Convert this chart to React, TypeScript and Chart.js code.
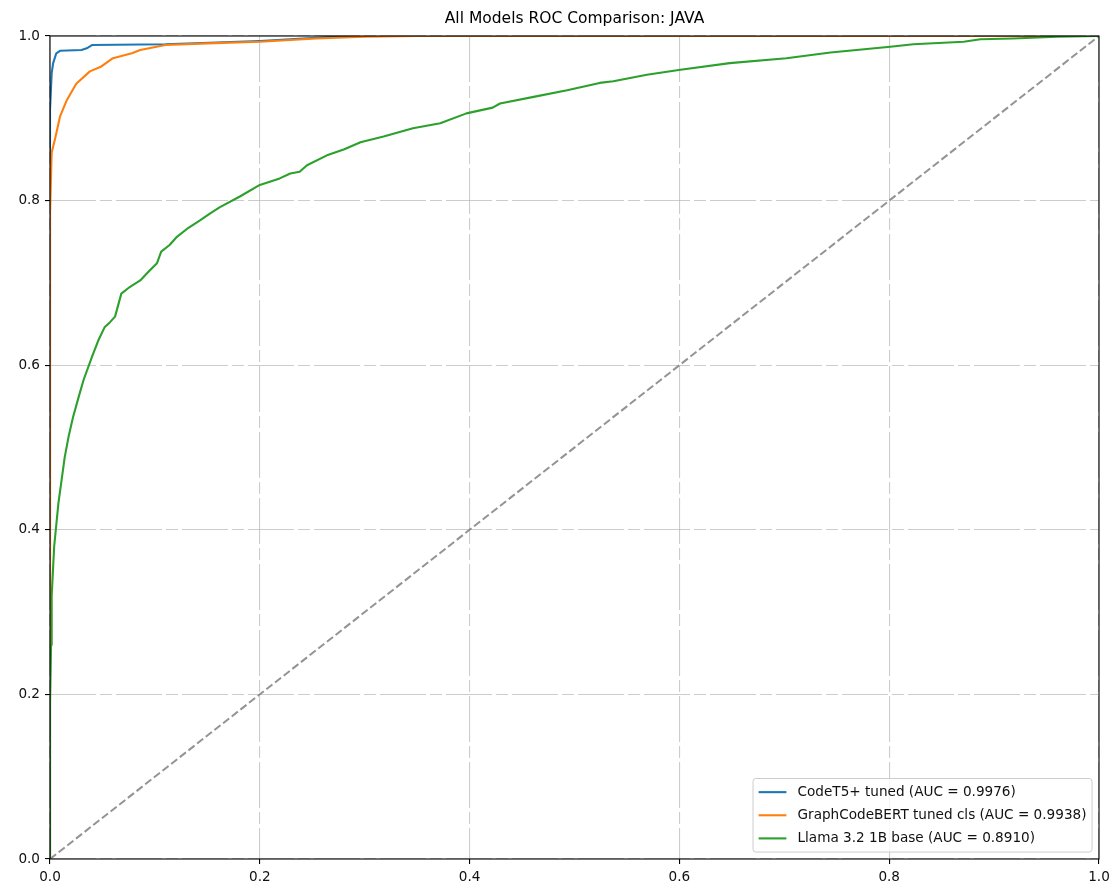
import React, { useEffect, useRef } from 'react';
import { Chart, registerables } from 'chart.js';

Chart.register(...registerables);

const TITLE = 'All Models ROC Comparison: JAVA';
const xTickLabels = ['0.0', '0.2', '0.4', '0.6', '0.8', '1.0'];
const yTickLabels = ['0.0', '0.2', '0.4', '0.6', '0.8', '1.0'];

const seriesLabels = [
  'CodeT5+ tuned (AUC = 0.9976)',
  'GraphCodeBERT tuned cls (AUC = 0.9938)',
  'Llama 3.2 1B base (AUC = 0.8910)',
];
const seriesColors = ['#1f77b4', '#ff7f0e', '#2ca02c'];

const codet5Fpr = [0, 0, 0.0016, 0.003, 0.006, 0.0095, 0.03, 0.035, 0.04, 0.11, 0.2, 0.27, 0.3, 1];
const codet5Tpr = [0, 0.91, 0.955, 0.967, 0.979, 0.982, 0.983, 0.985, 0.989, 0.99, 0.994, 0.999, 1, 1];

const gcbFpr = [0, 0, 0.0016, 0.005, 0.0095, 0.016, 0.025, 0.038, 0.049, 0.06, 0.078, 0.086, 0.11, 0.15, 0.2, 0.254, 0.3, 0.35, 1];
const gcbTpr = [0, 0.785, 0.858, 0.876, 0.902, 0.922, 0.942, 0.957, 0.963, 0.973, 0.979, 0.983, 0.989, 0.991, 0.993, 0.997, 0.999, 1, 1];

const llamaFpr = [
  0, 0, 0.001, 0.0016, 0.004, 0.008, 0.011, 0.014, 0.018, 0.022, 0.027, 0.032, 0.04, 0.046, 0.052, 0.057, 0.062,
  0.068, 0.076, 0.086, 0.095, 0.102, 0.106, 0.114, 0.121, 0.132, 0.143, 0.152, 0.162, 0.181, 0.2, 0.219, 0.229, 0.238,
  0.245, 0.264, 0.28, 0.296, 0.318, 0.346, 0.372, 0.397, 0.422, 0.429, 0.461, 0.493, 0.524, 0.537, 0.569,
  0.601, 0.648, 0.702, 0.744, 0.801, 0.823, 0.871, 0.887, 0.918, 0.96, 1,
];
const llamaTpr = [
  0, 0.19, 0.26, 0.32, 0.38, 0.432, 0.46, 0.488, 0.515, 0.537, 0.56, 0.582, 0.61, 0.63, 0.646, 0.652, 0.659,
  0.687, 0.695, 0.703, 0.715, 0.724, 0.738, 0.746, 0.756, 0.767, 0.776, 0.784, 0.792, 0.805, 0.819, 0.827, 0.833, 0.835,
  0.843, 0.855, 0.862, 0.871, 0.878, 0.888, 0.894, 0.906, 0.913, 0.918, 0.926, 0.934, 0.943, 0.945, 0.953,
  0.959, 0.967, 0.973, 0.98, 0.987, 0.99, 0.993, 0.996, 0.997, 0.999, 1,
];

const chanceFpr = [0, 1];
const chanceTpr = [0, 1];

const FONT = 'DejaVu Sans';
const FS = 13.6;

const toPoints = (xs: number[], ys: number[]) => xs.map((x, i) => ({ x, y: ys[i] }));

const frameLegendPlugin = {
  id: 'frameLegend',
  afterDraw(chart: any) {
    const { ctx, chartArea: a } = chart;
    ctx.save();
    ctx.strokeStyle = '#000000';
    ctx.lineWidth = 1.1;
    ctx.setLineDash([]);
    ctx.strokeRect(a.left, a.top, a.right - a.left, a.bottom - a.top);

    const f = 13.9;
    ctx.font = `${FS}px "${FONT}"`;
    const ds = chart.data.datasets.slice(0, 3);
    let maxW = 0;
    ds.forEach((d: any) => {
      maxW = Math.max(maxW, ctx.measureText(d.label).width);
    });
    const rowH = 1.164 * f;
    const pad = 0.4 * f;
    const handle = 2.0 * f;
    const htp = 0.8 * f;
    const spacing = 0.5 * f;
    const width = 2 * pad + handle + htp + maxW;
    const height = 2 * pad + ds.length * rowH + (ds.length - 1) * spacing;
    const right = a.right - 0.5 * f;
    const bottom = a.bottom - 0.5 * f;
    const left = right - width;
    const top = bottom - height;
    const r = 2.8;
    ctx.beginPath();
    ctx.moveTo(left + r, top);
    ctx.lineTo(right - r, top);
    ctx.arcTo(right, top, right, top + r, r);
    ctx.lineTo(right, bottom - r);
    ctx.arcTo(right, bottom, right - r, bottom, r);
    ctx.lineTo(left + r, bottom);
    ctx.arcTo(left, bottom, left, bottom - r, r);
    ctx.lineTo(left, top + r);
    ctx.arcTo(left, top, left + r, top, r);
    ctx.closePath();
    ctx.fillStyle = 'rgba(255,255,255,0.8)';
    ctx.fill();
    ctx.strokeStyle = '#cccccc';
    ctx.lineWidth = 1;
    ctx.stroke();

    ds.forEach((d: any, i: number) => {
      const cy = top + pad + i * (rowH + spacing) + rowH / 2;
      ctx.beginPath();
      ctx.strokeStyle = d.borderColor;
      ctx.lineWidth = 2.1;
      ctx.moveTo(left + pad, cy);
      ctx.lineTo(left + pad + handle, cy);
      ctx.stroke();
      ctx.fillStyle = '#111111';
      ctx.textAlign = 'left';
      ctx.textBaseline = 'middle';
      ctx.fillText(d.label, left + pad + handle + htp, cy + 0.5);
    });
    ctx.restore();
  },
};

export default function App() {
  const canvasRef = useRef<HTMLCanvasElement | null>(null);

  useEffect(() => {
    if (!canvasRef.current) return;
    const curveCommon = {
      showLine: true,
      pointRadius: 0,
      pointHoverRadius: 0,
      borderWidth: 2.1,
      borderJoinStyle: 'round' as const,
      fill: false,
      tension: 0,
    };
    const gridCfg = {
      color: 'rgba(176,176,176,0.65)',
      lineWidth: 1.1,
      drawTicks: true,
      tickLength: 5,
      tickColor: '#000000',
      tickWidth: 1.1,
    };
    const chart = new Chart(canvasRef.current, {
      type: 'scatter',
      data: {
        datasets: [
          {
            ...curveCommon,
            label: seriesLabels[0],
            data: toPoints(codet5Fpr, codet5Tpr),
            borderColor: seriesColors[0],
            backgroundColor: seriesColors[0],
            order: 3,
          },
          {
            ...curveCommon,
            label: seriesLabels[1],
            data: toPoints(gcbFpr, gcbTpr),
            borderColor: seriesColors[1],
            backgroundColor: seriesColors[1],
            order: 2,
          },
          {
            ...curveCommon,
            label: seriesLabels[2],
            data: toPoints(llamaFpr, llamaTpr),
            borderColor: seriesColors[2],
            backgroundColor: seriesColors[2],
            order: 1,
          },
          {
            ...curveCommon,
            label: 'chance',
            data: toPoints(chanceFpr, chanceTpr),
            borderColor: 'rgba(128,128,128,0.85)',
            backgroundColor: 'rgba(128,128,128,0.85)',
            borderWidth: 2,
            borderDash: [7.7, 3.3],
            order: 0,
          },
        ],
      },
      options: {
        responsive: false,
        animation: false,
        events: [],
        devicePixelRatio: 1,
        layout: { padding: { left: 0, right: 20, top: 0, bottom: 0 } },
        plugins: {
          legend: { display: false },
          tooltip: { enabled: false },
          title: {
            display: true,
            text: TITLE,
            fullSize: false,
            color: '#000000',
            font: { family: FONT, size: 15.5, weight: 'normal', lineHeight: 1.2 },
            padding: { top: 9.5, bottom: 7.9 },
          },
        },
        scales: {
          x: {
            type: 'linear',
            min: 0,
            max: 1,
            afterFit: (s: any) => {
              s.height = 28;
            },
            afterBuildTicks: (s: any) => {
              s.ticks = xTickLabels.map((t) => ({ value: parseFloat(t) }));
            },
            ticks: {
              color: '#111111',
              font: { family: FONT, size: FS },
              padding: 5,
              maxRotation: 0,
              autoSkip: false,
              callback: (_v: any, i: number) => xTickLabels[i],
            },
            grid: gridCfg,
            border: { display: false, dash: [46, 4, 12, 4] },
          },
          y: {
            type: 'linear',
            min: 0,
            max: 1,
            afterFit: (s: any) => {
              s.width = 50;
            },
            afterBuildTicks: (s: any) => {
              s.ticks = yTickLabels.map((t) => ({ value: parseFloat(t) }));
            },
            ticks: {
              color: '#111111',
              font: { family: FONT, size: FS },
              padding: 5,
              autoSkip: false,
              callback: (_v: any, i: number) => yTickLabels[i],
            },
            grid: gridCfg,
            border: { display: false, dash: [46, 4, 12, 4] },
          },
        },
      },
      plugins: [frameLegendPlugin],
    });
    return () => chart.destroy();
  }, []);

  return (
    <div style={{ position: 'absolute', left: 0, top: 0, width: 1119, height: 887, background: '#ffffff' }}>
      <canvas ref={canvasRef} width={1119} height={887} style={{ display: 'block', width: 1119, height: 887 }} />
    </div>
  );
}
